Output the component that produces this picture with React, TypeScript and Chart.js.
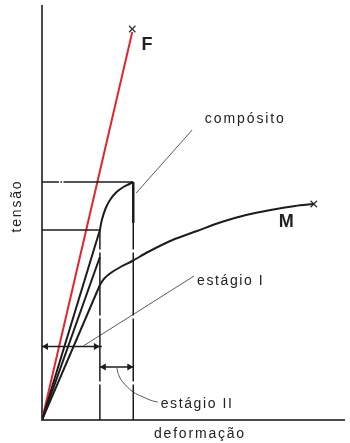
import React, { useEffect, useRef } from "react";
import { Chart, registerables } from "chart.js";

Chart.register(...registerables);

// ---- data (x = deformação, y = tensão, arbitrary units) ----
const fiberX = [0, 92];
const fiberY = [0, 388];
const fiberEndX = [92];
const fiberEndY = [391];

const compositeIX = [0, 59];
const compositeIY = [0, 190];
const compositeIIX = [59, 61, 65, 70, 76, 83, 89, 93];
const compositeIIY = [190, 200, 212, 221, 228, 233, 236, 238];
const compositeDropX = [93, 93];
const compositeDropY = [238, 197];

const secondLineX = [0, 59];
const secondLineY = [0, 163];

const matrixIX = [0, 59];
const matrixIY = [0, 135];
const matrixIIX = [59, 63, 70, 80, 92, 108, 133, 158, 183, 208, 233, 258, 277];
const matrixIIY = [135, 141, 147, 153, 159, 168, 180, 189, 198, 205, 210, 214, 216];
const matrixEndX = [277];
const matrixEndY = [216];

const guideV1X = [59, 59];
const guideV1Y = [0, 190];
const guideV2X = [93, 93];
const guideV2Y = [0, 238];
const guideH1X = [0, 93];
const guideH1Y = [238, 238];
const guideH2X = [0, 59];
const guideH2Y = [190, 190];

const arrowIX = [0, 4, 55, 61];
const arrowIY = [73.5, 73.5, 73.5, 73.5];
const arrowIIX = [59, 63, 89, 93];
const arrowIIY = [53, 53, 53, 53];

const pointerCompX = [96, 153];
const pointerCompY = [227, 290];
const pointerIX = [155, 42];
const pointerIY = [144, 74];
const pointerIIX = [76, 79, 85, 93, 103, 113, 118];
const pointerIIY = [53, 43, 35, 28, 23, 19, 18];

const xMax = 308;
const yMax = 414;

const pts = (xs: number[], ys: number[]) => xs.map((x, i) => ({ x, y: ys[i] }));

const BLACK = "#1c1c1c";
const RED = "#e3262e";
const GREY = "#5a5a5a";

type Lbl = { text: string; x: number; y: number; size: number; bold?: boolean; align?: CanvasTextAlign; spacing?: number };

const labels: Lbl[] = [
  { text: "F", x: 107, y: 375, size: 18, bold: true, align: "center", spacing: 0 },
  { text: "M", x: 249, y: 198, size: 18, bold: true, align: "center", spacing: 0 },
  { text: "compósito", x: 166, y: 301, size: 14, align: "left", spacing: 1.9 },
  { text: "estágio I", x: 158, y: 139, size: 14, align: "left", spacing: 1.6 },
  { text: "estágio II", x: 121, y: 16, size: 14, align: "left", spacing: 1.6 },
];

const labelPlugin = {
  id: "figLabels",
  afterDatasetsDraw(chart: any) {
    const { ctx, scales, chartArea } = chart;
    const xs = scales.x;
    const ys = scales.y;
    ctx.save();
    ctx.fillStyle = "#222";
    ctx.textBaseline = "middle";
    for (const l of labels) {
      ctx.font = `${l.bold ? "bold " : ""}${l.size}px "Liberation Sans", Arial, sans-serif`;
      (ctx as any).letterSpacing = `${l.spacing ?? 0}px`;
      ctx.textAlign = l.align ?? "left";
      ctx.fillText(l.text, xs.getPixelForValue(l.x), ys.getPixelForValue(l.y));
    }
    // axis titles
    ctx.font = `14px "Liberation Sans", Arial, sans-serif`;
    (ctx as any).letterSpacing = "1.8px";
    ctx.textAlign = "center";
    ctx.fillText("deformação", xs.getPixelForValue(161), chartArea.bottom + 14);
    ctx.translate(chartArea.left - 25, ys.getPixelForValue(214));
    ctx.rotate(-Math.PI / 2);
    ctx.fillText("tensão", 0, 0);
    ctx.restore();
  },
};

export default function App() {
  const ref = useRef<HTMLCanvasElement | null>(null);
  useEffect(() => {
    if (!ref.current) return;
    const line = (data: any[], color: string, width: number, extra: any = {}) => ({
      data,
      showLine: true,
      borderColor: color,
      borderWidth: width,
      pointRadius: 0,
      fill: false,
      tension: 0,
      ...extra,
    });
    const chart = new Chart(ref.current, {
      type: "scatter",
      data: {
        datasets: [
          line(pts(guideV1X, guideV1Y), BLACK, 1.5, { borderDash: [63, 3], borderDashOffset: 27.5 }),
          line(pts(guideV2X, guideV2Y), BLACK, 1.5, { borderDash: [63, 3], borderDashOffset: 27.5 }),
          line(pts(guideH1X, guideH1Y), BLACK, 1.5, { borderDash: [17, 1.5, 1.5, 1.5, 300] }),
          line(pts(guideH2X, guideH2Y), BLACK, 1.5),
          line(pts(pointerCompX, pointerCompY), GREY, 1),
          line(pts(pointerIX, pointerIY), GREY, 1),
          line(pts(pointerIIX, pointerIIY), GREY, 1, { tension: 0.4 }),
          line(pts(arrowIX, arrowIY), BLACK, 1.5, {
            pointRadius: [0, 4, 4, 0],
            pointStyle: "triangle",
            pointRotation: [0, -90, 90, 0],
            pointBackgroundColor: BLACK,
            pointBorderColor: BLACK,
            pointBorderWidth: 0,
          }),
          line(pts(arrowIIX, arrowIIY), BLACK, 1.5, {
            pointRadius: [0, 4, 4, 0],
            pointStyle: "triangle",
            pointRotation: [0, -90, 90, 0],
            pointBackgroundColor: BLACK,
            pointBorderColor: BLACK,
            pointBorderWidth: 0,
          }),
          line(pts(secondLineX, secondLineY), BLACK, 2),
          line(pts(matrixIX, matrixIY), BLACK, 2),
          line(pts(matrixIIX, matrixIIY), BLACK, 2, { tension: 0.3 }),
          line(pts(compositeIX, compositeIY), BLACK, 2),
          line(pts(compositeIIX, compositeIIY), BLACK, 2, { tension: 0.3 }),
          line(pts(compositeDropX, compositeDropY), BLACK, 2.5),
          line(pts(fiberX, fiberY), RED, 2),
          {
            data: pts(fiberEndX, fiberEndY),
            pointStyle: "crossRot",
            pointRadius: 4.5,
            borderColor: "#333",
            borderWidth: 1.3,
          },
          {
            data: pts(matrixEndX, matrixEndY),
            pointStyle: "crossRot",
            pointRadius: 4.5,
            borderColor: "#333",
            borderWidth: 1.3,
          },
        ] as any,
      },
      options: {
        animation: false,
        responsive: false,
        layout: { padding: { left: 42, right: 0, top: 6, bottom: 23 } },
        plugins: { legend: { display: false }, tooltip: { enabled: false } },
        scales: {
          x: {
            type: "linear",
            min: 0,
            max: xMax,
            grid: { display: false, drawTicks: false },
            ticks: { display: false },
            border: { display: true, color: "#4a4a4a", width: 2 },
          },
          y: {
            type: "linear",
            min: 0,
            max: yMax,
            grid: { display: false, drawTicks: false },
            ticks: { display: false },
            border: { display: true, color: "#4a4a4a", width: 2 },
          },
        },
      },
      plugins: [labelPlugin],
    });
    return () => chart.destroy();
  }, []);
  return (
    <div style={{ position: "fixed", left: 0, top: 0, width: 350, height: 443, background: "#fff" }}>
      <canvas ref={ref} width={350} height={443} />
    </div>
  );
}
